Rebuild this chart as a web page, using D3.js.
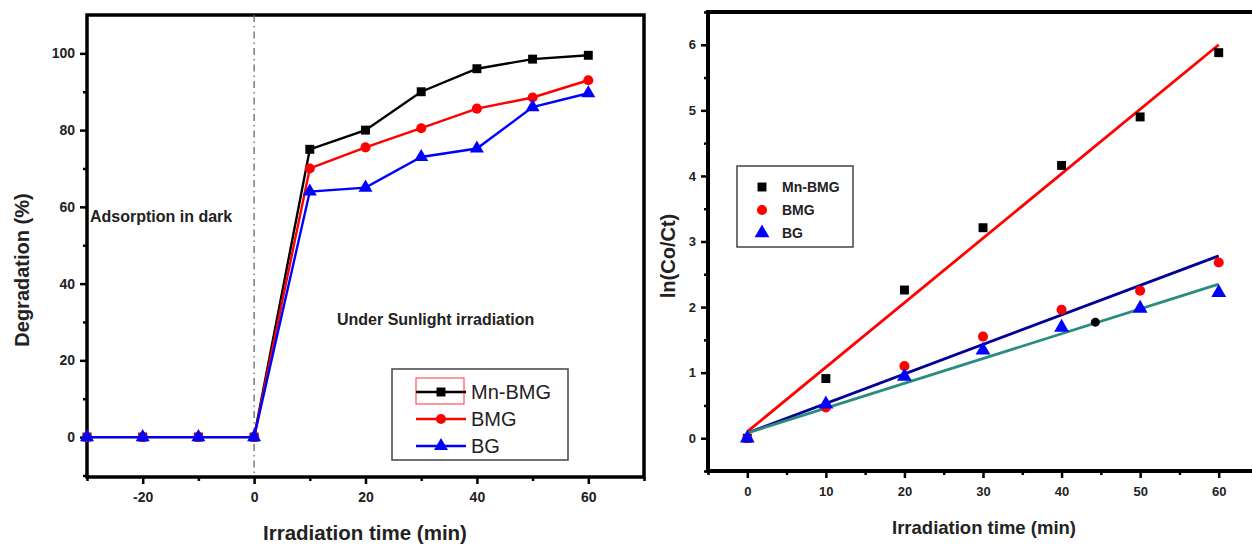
<!DOCTYPE html>
<html>
<head>
<meta charset="utf-8">
<script src="https://cdn.jsdelivr.net/npm/d3@7/dist/d3.min.js"></script>
<style>
  html, body { margin: 0; padding: 0; background: #fff; }
  svg { display: block; font-family: "Liberation Sans", Arial, sans-serif; }
  .tick text { font-weight: bold; fill: #222; }
  .tick line { stroke: #000; stroke-width: 2.5; }
</style>
</head>
<body>
<svg id="chart" width="1252" height="547"></svg>
<script>
// ── Data ─────────────────────────────────────────────────────────────────────
const seriesNames = ['Mn-BMG', 'BMG', 'BG'];

// left: degradation (%)
const leftTime  = [-30, -20, -10, 0, 10, 20, 30, 40, 50, 60];
const degMnBMG  = [0, 0, 0, 0, 75, 80, 90, 96, 98.5, 99.5];
const degBMG    = [0, 0, 0, 0, 70, 75.5, 80.5, 85.6, 88.5, 93];
const degBG     = [0, 0, 0, 0, 64, 65, 73, 75.2, 86, 89.6];

const leftXTicks = [-20, 0, 20, 40, 60];
const leftYTicks = [0, 20, 40, 60, 80, 100];

// right: ln(Co/Ct)
const rightTime = [0, 10, 20, 30, 40, 50, 60];
const lnMnBMG   = [0, 0.91, 2.26, 3.21, 4.16, 4.9, 5.88];
const lnBMG     = [0, 0.47, 1.1, 1.55, 1.96, 2.25, 2.68];
const lnBG      = [0, 0.52, 0.94, 1.34, 1.69, 1.98, 2.22];
const strayPoint = [44.3, 1.77];

// linear fits (end points)
const fitTime  = [0, 60];
const fitMnBMG = [0.1, 6.0];
const fitBMG   = [0.08, 2.78];
const fitBG    = [0.08, 2.35];

const rightXTicks = [0, 10, 20, 30, 40, 50, 60];
const rightYTicks = [0, 1, 2, 3, 4, 5, 6];

const svg = d3.select('#chart');
const plain = d => String(d);   // hyphen minus, no decimals

// ── Left chart ───────────────────────────────────────────────────────────────
const xL = d3.scaleLinear([-30, 70], [87, 644]);
const yL = d3.scaleLinear([-10.4, 110], [477, 15]);

const L = svg.append('g');

// minor + major ticks
L.append('g').attr('transform', `translate(0,${yL.range()[0]})`)
  .call(d3.axisBottom(xL).tickValues([-30, -10, 10, 30, 50, 70]).tickSize(4).tickFormat(''))
  .call(g => g.select('.domain').remove());
L.append('g').attr('transform', `translate(0,${yL.range()[0]})`)
  .call(d3.axisBottom(xL).tickValues(leftXTicks).tickSize(7).tickPadding(8).tickFormat(plain))
  .call(g => g.select('.domain').remove())
  .selectAll('text').style('font-size', '14px');
L.append('g').attr('transform', `translate(${xL.range()[0]},0)`)
  .call(d3.axisLeft(yL).tickValues([-10, 10, 30, 50, 70, 90]).tickSize(4).tickFormat(''))
  .call(g => g.select('.domain').remove());
L.append('g').attr('transform', `translate(${xL.range()[0]},0)`)
  .call(d3.axisLeft(yL).tickValues(leftYTicks).tickSize(7).tickPadding(5).tickFormat(plain))
  .call(g => g.select('.domain').remove())
  .selectAll('text').style('font-size', '14px');

// frame
L.append('rect')
  .attr('x', xL.range()[0]).attr('y', yL.range()[1])
  .attr('width', xL.range()[1] - xL.range()[0])
  .attr('height', yL.range()[0] - yL.range()[1])
  .attr('fill', 'none').attr('stroke', '#000').attr('stroke-width', 3.5);

// dash-dot at t = 0
L.append('line')
  .attr('x1', xL(0)).attr('x2', xL(0))
  .attr('y1', yL.range()[1]).attr('y2', yL.range()[0])
  .attr('stroke', '#666').attr('stroke-width', 1.3)
  .attr('stroke-dasharray', '7,4,1.5,4');

const symSquare = d3.symbol(d3.symbolSquare, 80);
const symCircle = d3.symbol(d3.symbolCircle, 80);
const symTri    = d3.symbol(d3.symbolTriangle, 85);

const leftSeries = [
  { name: seriesNames[0], vals: degMnBMG, color: '#000000', sym: symSquare },
  { name: seriesNames[1], vals: degBMG,   color: '#ff0000', sym: symCircle },
  { name: seriesNames[2], vals: degBG,    color: '#0000ff', sym: symTri }
];

const lineL = d3.line().x(d => xL(d[0])).y(d => yL(d[1]));

leftSeries.forEach(s => {
  const pts = leftTime.map((t, i) => [t, s.vals[i]]);
  L.append('path').datum(pts)
    .attr('d', lineL).attr('fill', 'none')
    .attr('stroke', s.color).attr('stroke-width', 2.4);
  L.selectAll(null).data(pts).enter().append('path')
    .attr('transform', d => `translate(${xL(d[0])},${yL(d[1])})`)
    .attr('d', s.sym).attr('fill', s.color);
});

// annotations
L.append('text').attr('x', 90).attr('y', 222)
  .style('font-size', '16px').style('font-weight', 'bold').attr('fill', '#222')
  .text('Adsorption in dark');
L.append('text').attr('x', 337).attr('y', 325)
  .style('font-size', '16px').style('font-weight', 'bold').attr('fill', '#222')
  .text('Under Sunlight irradiation');

// axis titles
L.append('text').attr('x', 365).attr('y', 540).attr('text-anchor', 'middle')
  .style('font-size', '20.5px').style('font-weight', 'bold').attr('fill', '#222')
  .text('Irradiation time (min)');
L.append('text').attr('transform', 'translate(29,270) rotate(-90)').attr('text-anchor', 'middle')
  .style('font-size', '20px').style('font-weight', 'bold').attr('fill', '#222')
  .text('Degradation (%)');

// legend
const legL = L.append('g');
legL.append('rect').attr('x', 392).attr('y', 369).attr('width', 176).attr('height', 91)
  .attr('fill', '#fff').attr('stroke', '#444').attr('stroke-width', 1.5);
legL.append('rect').attr('x', 416).attr('y', 378).attr('width', 48).attr('height', 26)
  .attr('fill', 'none').attr('stroke', '#ff3333').attr('stroke-width', 1);
leftSeries.forEach((s, i) => {
  const y = 392 + i * 27;
  legL.append('line').attr('x1', 416).attr('x2', 466).attr('y1', y).attr('y2', y)
    .attr('stroke', s.color).attr('stroke-width', 2.4);
  legL.append('path').attr('transform', `translate(441,${y})`).attr('d', s.sym).attr('fill', s.color);
  legL.append('text').attr('x', 471).attr('y', y + 7)
    .style('font-size', '20px').attr('fill', '#222').text(s.name);
});

// ── Right chart ──────────────────────────────────────────────────────────────
const xR = d3.scaleLinear([-5, 65], [708, 1258]);
const yR = d3.scaleLinear([-0.5, 6.5], [471, 12]);

const R = svg.append('g');

R.append('g').attr('transform', `translate(0,${yR.range()[0]})`)
  .call(d3.axisBottom(xR).tickValues(d3.range(-5, 66, 10)).tickSize(4).tickFormat(''))
  .call(g => g.select('.domain').remove());
R.append('g').attr('transform', `translate(0,${yR.range()[0]})`)
  .call(d3.axisBottom(xR).tickValues(rightXTicks).tickSize(7).tickPadding(9).tickFormat(plain))
  .call(g => g.select('.domain').remove())
  .selectAll('text').style('font-size', '13px');
R.append('g').attr('transform', `translate(${xR.range()[0]},0)`)
  .call(d3.axisLeft(yR).tickValues(d3.range(-0.5, 6.6, 1)).tickSize(4).tickFormat(''))
  .call(g => g.select('.domain').remove());
R.append('g').attr('transform', `translate(${xR.range()[0]},0)`)
  .call(d3.axisLeft(yR).tickValues(rightYTicks).tickSize(7).tickPadding(5).tickFormat(plain))
  .call(g => g.select('.domain').remove())
  .selectAll('text').style('font-size', '13px');

// frame (open on the right – cut by the picture)
R.append('path')
  .attr('d', `M1252,${yR.range()[1]}H${xR.range()[0]}V${yR.range()[0]}H1252`)
  .attr('fill', 'none').attr('stroke', '#000').attr('stroke-width', 4);

const rightSeries = [
  { vals: lnMnBMG, color: '#000000', sym: symSquare },
  { vals: lnBMG,   color: '#ff0000', sym: symCircle },
  { vals: lnBG,    color: '#0000ff', sym: d3.symbol(d3.symbolTriangle, 95) }
];
const fits = [
  { vals: fitMnBMG, color: '#ff0000' },
  { vals: fitBMG,   color: '#000099' },
  { vals: fitBG,    color: '#2a8c80' }
];

const lineR = d3.line().x(d => xR(d[0])).y(d => yR(d[1]));

fits.forEach(f => {
  R.append('path').datum(fitTime.map((t, i) => [t, f.vals[i]]))
    .attr('d', lineR).attr('fill', 'none')
    .attr('stroke', f.color).attr('stroke-width', 2.8);
});

rightSeries.forEach(s => {
  R.selectAll(null).data(rightTime.map((t, i) => [t, s.vals[i]])).enter().append('path')
    .attr('transform', d => `translate(${xR(d[0])},${yR(d[1])})`)
    .attr('d', s.sym).attr('fill', s.color);
});
R.append('circle').attr('cx', xR(strayPoint[0])).attr('cy', yR(strayPoint[1]))
  .attr('r', 4.5).attr('fill', '#000');

// axis titles
R.append('text').attr('x', 984).attr('y', 534).attr('text-anchor', 'middle')
  .style('font-size', '18.5px').style('font-weight', 'bold').attr('fill', '#222')
  .text('Irradiation time (min)');
R.append('text').attr('transform', 'translate(675,256) rotate(-90)').attr('text-anchor', 'middle')
  .style('font-size', '20px').style('font-weight', 'bold').attr('fill', '#222')
  .text('ln(Co/Ct)');

// legend
const legR = R.append('g');
legR.append('rect').attr('x', 737).attr('y', 166).attr('width', 116).attr('height', 81)
  .attr('fill', '#fff').attr('stroke', '#444').attr('stroke-width', 1.5);
rightSeries.forEach((s, i) => {
  const y = 187 + i * 23;
  legR.append('path').attr('transform', `translate(762,${y})`).attr('d', s.sym).attr('fill', s.color);
  legR.append('text').attr('x', 782).attr('y', y + 5)
    .style('font-size', '14px').style('font-weight', 'bold').attr('fill', '#222')
    .text(seriesNames[i]);
});
</script>
</body>
</html>
